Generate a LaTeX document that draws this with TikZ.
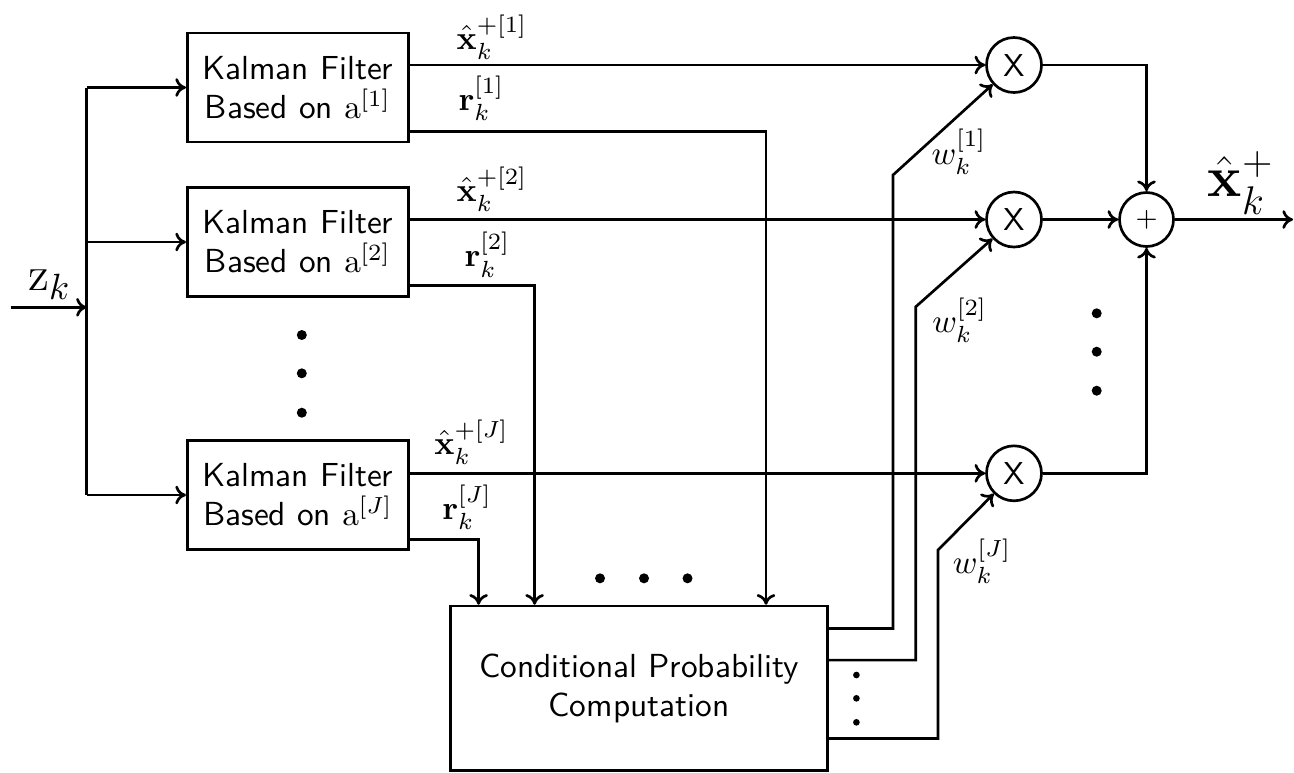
\documentclass[tikz,border=0pt]{standalone}
\usepackage{amsmath}
\usetikzlibrary{arrows.meta}
\begin{document}
\begin{tikzpicture}[x=0.3pt,y=-0.3pt, line width=0.8pt, >={To[length=3.2pt,width=5.6pt]},
  box/.style={draw, rectangle, inner sep=0pt, align=center, font=\sffamily\fontsize{10}{11.7}\selectfont},
  op/.style={draw, circle, inner sep=0pt, minimum size=16.5pt, font=\sffamily\fontsize{9.5}{9.5}\selectfont},
  lab/.style={inner sep=0pt, font=\fontsize{10}{12}\selectfont},
  dotnode/.style={fill, circle, inner sep=0pt, minimum size=3pt},
  smalldot/.style={fill, circle, inner sep=0pt, minimum size=2pt}]
\useasboundingbox (0,0) rectangle (1294,772);

% Kalman filter boxes
\node[box, minimum width=66.3pt, minimum height=32.7pt] (kf1) at (297.8,87.5) {Kalman Filter\\Based on $\mathrm{a}^{[1]}$};
\node[box, minimum width=66.3pt, minimum height=32.7pt] (kf2) at (297.8,242) {Kalman Filter\\Based on $\mathrm{a}^{[2]}$};
\node[box, minimum width=66.3pt, minimum height=32.7pt] (kfJ) at (297.8,495) {Kalman Filter\\Based on $\mathrm{a}^{[J]}$};

% conditional probability box
\node[box, minimum width=113pt, minimum height=49.4pt] (cpc) at (639,688.4) {Conditional Probability\\Computation};

% operators
\node[op] (X1) at (1014,65) {X};
\node[op] (X2) at (1014,219.5) {X};
\node[op] (XJ) at (1014,473.3) {X};
\node[op, minimum size=16.2pt, font=\sffamily\fontsize{8}{8}\selectfont] (plus) at (1146.5,219.5) {+};

% input
\coordinate (zin) at (10.7,307.3);
\coordinate (bus) at (86.8,307.3);
\coordinate (bt) at (86.8,87.5);
\coordinate (bb) at (86.8,495);
\node[inner sep=0pt, font=\fontsize{15.5}{18}\selectfont] (zlab) at (49.5,285) {$\mathrm{z}_k$};
\draw[->] (zin) -- (bus);
\draw (bt) -- (bb);
\draw[->] (bt) -- (kf1);
\draw[->] (bt |- kf2) -- (kf2);
\draw[->] (bb) -- (kfJ);

% state estimates to multipliers
\draw[->] (kf1.east |- X1) -- (X1);
\draw[->] (kf2.east |- X2) -- (X2);
\draw[->] (kfJ.east |- XJ) -- (XJ);
\node[lab] (xl1) at (492,37) {$\hat{\mathbf{x}}_k^{+[1]}$};
\node[lab] (xl2) at (492,189) {$\hat{\mathbf{x}}_k^{+[2]}$};
\node[lab] (xlJ) at (471.5,442) {$\hat{\mathbf{x}}_k^{+[J]}$};

% residuals to the probability computation
\coordinate (r1x) at (766,0);
\coordinate (r2x) at (534.6,0);
\coordinate (rJx) at (478.6,0);
\draw[->] ([yshift=-13.1pt]kf1.east) -| (r1x |- cpc.north);
\draw[->] ([yshift=-13.1pt]kf2.east) -| (r2x |- cpc.north);
\draw[->] ([yshift=-13.3pt]kfJ.east) -| (rJx |- cpc.north);
\node[lab] (rl1) at (481.5,98) {$\mathbf{r}_k^{[1]}$};
\node[lab] (rl2) at (487.5,254.6) {$\mathbf{r}_k^{[2]}$};
\node[lab] (rlJ) at (467,507.5) {$\mathbf{r}_k^{[J]}$};

% weights
\coordinate (w1c) at (893,175);
\coordinate (w2c) at (915.8,306.7);
\coordinate (wJc) at (938,550);
\draw[->] ([yshift=18pt]cpc.east) -| (w1c) -- (X1);
\draw[->] ([yshift=8.5pt]cpc.east) -| (w2c) -- (X2);
\draw[->] ([yshift=-15pt]cpc.east) -| (wJc) -- (XJ);
\node[lab] (wl1) at (959,151.7) {$w_k^{[1]}$};
\node[lab] (wl2) at (959.7,320) {$w_k^{[2]}$};
\node[lab] (wlJ) at (982,561) {$w_k^{[J]}$};

% summation
\coordinate (out) at (1293,219.5);
\draw[->] (X1) -| (plus);
\draw[->] (X2) -- (plus);
\draw[->] (XJ) -| (plus);
\draw[->] (plus) -- (out);
\node[inner sep=0pt, font=\fontsize{17}{20}\selectfont] (xout) at (1241,182.5) {$\hat{\mathbf{x}}_k^{+}$};

% ellipsis dots
\node[dotnode] (d1) at (301.8,335) {};
\node[dotnode] (d2) at (301.8,373.3) {};
\node[dotnode] (d3) at (301.8,412.7) {};
\node[dotnode] (d4) at (600,578.3) {};
\node[dotnode] (d5) at (644,578.3) {};
\node[dotnode] (d6) at (687.5,578.3) {};
\node[smalldot] (d7) at (856.4,675) {};
\node[smalldot] (d8) at (856.4,698.3) {};
\node[smalldot] (d9) at (856.4,722.3) {};
\node[dotnode] (d10) at (1096.7,313.3) {};
\node[dotnode] (d11) at (1096.7,351.7) {};
\node[dotnode] (d12) at (1096.7,390.7) {};
\end{tikzpicture}
\end{document}
